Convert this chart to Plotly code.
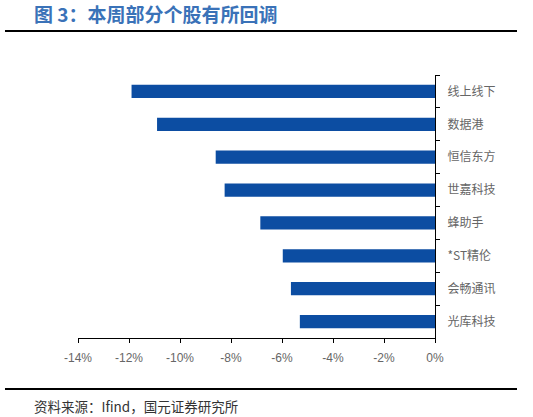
import plotly.graph_objects as go

# weekly change of selected stocks (%)
stocks = ['线上线下', '数据港', '恒信东方', '世嘉科技', '蜂助手', '*ST精伦', '会畅通讯', '光库科技']
change = [-11.9, -10.9, -8.6, -8.25, -6.85, -5.97, -5.65, -5.3]
x_ticks = [-14, -12, -10, -8, -6, -4, -2, 0]

cjk = "Noto Sans CJK SC"

fig = go.Figure()
fig.add_trace(go.Bar(x=change, y=stocks, orientation='h',
                     marker=dict(color='#0c4da2', line=dict(width=0)),
                     width=0.4))

fig.update_layout(
    width=533, height=417,
    margin=dict(l=78, r=98, t=75, b=79),
    paper_bgcolor='white', plot_bgcolor='white',
    showlegend=False,
    xaxis=dict(range=[-14, 0], tickvals=x_ticks,
               ticktext=[f'{v}%' for v in x_ticks],
               showgrid=False, zeroline=False,
               showline=True, linecolor='black', linewidth=1,
               ticks='outside', ticklen=4, tickcolor='black',
               ticklabelstandoff=5,
               tickfont=dict(family='Liberation Sans', size=12, color='#666')),
    yaxis=dict(side='right', autorange='reversed',
               showgrid=False, zeroline=False,
               showline=True, linecolor='black', linewidth=1,
               ticks='outside', ticklen=4, tickcolor='black',
               tickson='boundaries', ticklabelstandoff=9,
               tickfont=dict(family=cjk, size=12, color='#666')),
)

# title, rules and source note
fig.add_annotation(text='<b>图 3：本周部分个股有所回调</b>', xref='paper', yref='paper',
                   x=-0.1289, y=1.232, xanchor='left', yanchor='middle',
                   showarrow=False, font=dict(family=cjk, size=19, color='#3a72b8'))
fig.add_annotation(text='资料来源：Ifind，国元证券研究所', xref='paper', yref='paper',
                   x=-0.1289, y=-0.2586, xanchor='left', yanchor='middle',
                   showarrow=False, font=dict(family=cjk, size=13.5, color='#333'))
fig.add_shape(type='line', xref='paper', yref='paper', x0=-0.2045, x1=1.2297,
              y0=1.1673, y1=1.1673, line=dict(color='black', width=2))
fig.add_shape(type='line', xref='paper', yref='paper', x0=-0.2045, x1=1.2297,
              y0=-0.1939, y1=-0.1939, line=dict(color='black', width=2))

# drop the default 8px page margin so the figure fills the window
fig.write_html("out.html", config={'displayModeBar': False},
               post_script="document.body.style.margin='0';")
